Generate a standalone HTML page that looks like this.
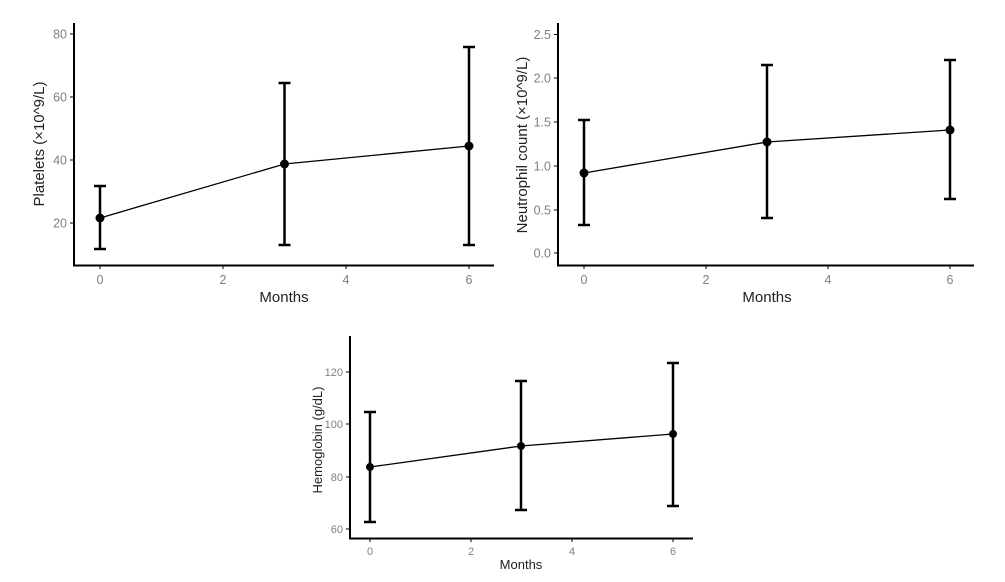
<!DOCTYPE html>
<html><head><meta charset="utf-8"><style>html,body{margin:0;padding:0;background:#fff}svg{display:block}</style></head><body>
<svg width="1005" height="582" xmlns="http://www.w3.org/2000/svg" font-family="Liberation Sans, sans-serif">
<g stroke="#000" fill="none">
<path d="M74 23V265.5H494" stroke-width="2"/>
<path d="M70 34h4M70 97h4M70 160h4M70 223h4M100 265v4M223 265v4M346 265v4M469 265v4" stroke-width="1"/>
<path d="M100 186V249M94 186h12M94 249h12M284.5 83V245M278.5 83h12M278.5 245h12M469 47V245M463 47h12M463 245h12" stroke-width="2.5"/>
<polyline points="100,218 284.5,164 469,146" stroke-width="1.3"/>
<path d="M558 23V265.5H974" stroke-width="2"/>
<path d="M554 34.5h4M554 78h4M554 122h4M554 166h4M554 210h4M554 253h4M584 265v4M706 265v4M828 265v4M950 265v4" stroke-width="1"/>
<path d="M584 120V225M578 120h12M578 225h12M767 65V218M761 65h12M761 218h12M950 60V199M944 60h12M944 199h12" stroke-width="2.5"/>
<polyline points="584,173 767,142 950,130" stroke-width="1.3"/>
<path d="M350 336V538.5H693" stroke-width="2"/>
<path d="M346 372h4M346 424h4M346 477h4M346 529h4M370 538v4M471 538v4M572 538v4M673 538v4" stroke-width="1"/>
<path d="M370 412V522M364 412h12M364 522h12M521 381V510M515 381h12M515 510h12M673 363V506M667 363h12M667 506h12" stroke-width="2.5"/>
<polyline points="370,467 521,446 673,434" stroke-width="1.3"/>
</g>
<g fill="#000">
<circle cx="100" cy="218" r="4.5"/><circle cx="284.5" cy="164" r="4.5"/><circle cx="469" cy="146" r="4.5"/>
<circle cx="584" cy="173" r="4.5"/><circle cx="767" cy="142" r="4.5"/><circle cx="950" cy="130" r="4.5"/>
<circle cx="370" cy="467" r="4"/><circle cx="521" cy="446" r="4"/><circle cx="673" cy="434" r="4"/>
</g>
<g fill="#7f7f7f" font-size="12.5" text-anchor="end">
<text x="67" y="38.5">80</text><text x="67" y="101.5">60</text><text x="67" y="164.5">40</text><text x="67" y="227.5">20</text>
<text x="551" y="39">2.5</text><text x="551" y="82.5">2.0</text><text x="551" y="126.5">1.5</text><text x="551" y="170.5">1.0</text><text x="551" y="214.5">0.5</text><text x="551" y="257.5">0.0</text>
</g>
<g fill="#7f7f7f" font-size="12.5" text-anchor="middle">
<text x="100" y="284">0</text><text x="223" y="284">2</text><text x="346" y="284">4</text><text x="469" y="284">6</text>
<text x="584" y="284">0</text><text x="706" y="284">2</text><text x="828" y="284">4</text><text x="950" y="284">6</text>
</g>
<g fill="#7f7f7f" font-size="11" text-anchor="end">
<text x="343" y="376">120</text><text x="343" y="428">100</text><text x="343" y="481">80</text><text x="343" y="533">60</text>
</g>
<g fill="#7f7f7f" font-size="11" text-anchor="middle">
<text x="370" y="555">0</text><text x="471" y="555">2</text><text x="572" y="555">4</text><text x="673" y="555">6</text>
</g>
<g fill="#222" text-anchor="middle">
<text x="284" y="302" font-size="15">Months</text>
<text x="767" y="302" font-size="15">Months</text>
<text x="521" y="569" font-size="13">Months</text>
<text transform="translate(44,144) rotate(-90)" font-size="15">Platelets (×10^9/L)</text>
<text transform="translate(527,145) rotate(-90)" font-size="15">Neutrophil count (×10^9/L)</text>
<text transform="translate(322,440) rotate(-90)" font-size="13">Hemoglobin (g/dL)</text>
</g>
</svg>
</body></html>
